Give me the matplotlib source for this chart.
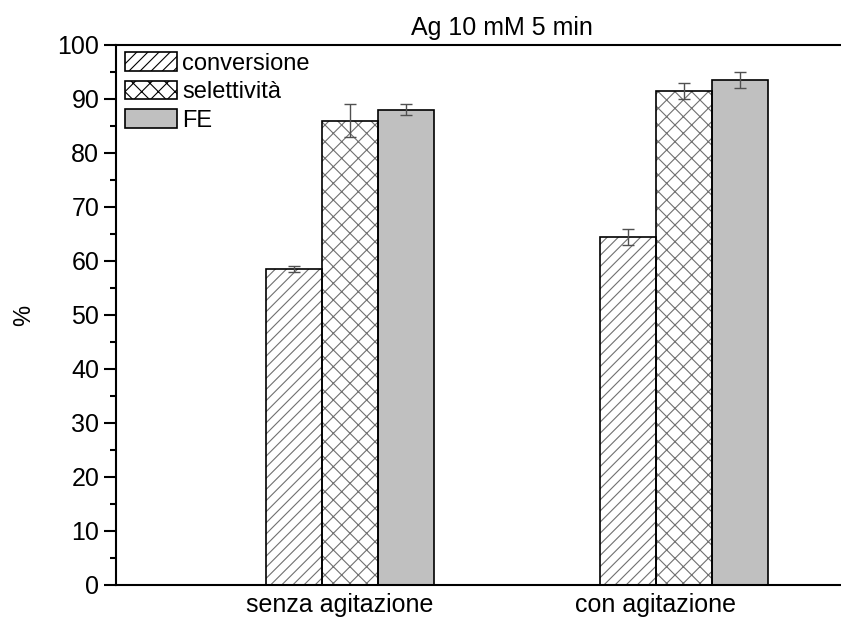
import numpy as np
import matplotlib
matplotlib.use("Agg")
import matplotlib.pyplot as plt
from matplotlib.patches import Patch
from matplotlib.ticker import MultipleLocator

plt.rcParams['font.family'] = ['Liberation Sans', 'DejaVu Sans']
plt.rcParams['hatch.linewidth'] = 0.8

# conditions and measured percentages
groups = ['senza agitazione', 'con agitazione']
series = ['conversione', 'selettività', 'FE']
conversione = [58.5, 64.5]
selettivita = [86.0, 91.5]
fe = [88.0, 93.5]
err_conversione = [0.5, 1.5]
err_selettivita = [3.0, 1.5]
err_fe = [1.0, 1.5]

values = [conversione, selettivita, fe]
errors = [err_conversione, err_selettivita, err_fe]
hatches = ['///', 'xx', '']
faces = ['white', 'white', '#c0c0c0']

fig = plt.figure(figsize=(8.41, 6.21), dpi=100)
ax = fig.add_axes([116 / 841, 36 / 621, 768 / 841, 540 / 621])

x = np.arange(len(groups))
w = 0.1677
for i in range(3):
    pos = x + (i - 1) * w
    # hatch drawn in grey, outline drawn separately in black
    ax.bar(pos, values[i], w, color=faces[i], edgecolor='#707070',
           hatch=hatches[i], linewidth=0, zorder=2)
    ax.bar(pos, values[i], w, fill=False, edgecolor='black', linewidth=1.2, zorder=3)
    ax.errorbar(pos, values[i], yerr=errors[i], fmt='none', ecolor='#505050',
                elinewidth=1.0, capsize=4.3, capthick=1.0, zorder=4)

ax.set_xlim(-0.7006, 1.6)
ax.set_ylim(0, 100)
ax.yaxis.set_major_locator(MultipleLocator(10))
ax.yaxis.set_minor_locator(MultipleLocator(5))
ax.tick_params(axis='y', which='major', direction='out', length=9, width=1.5,
               labelsize=18, pad=3)
ax.tick_params(axis='y', which='minor', direction='out', length=4, width=1.5)
# category labels sit a little left of the bar groups
ax.set_xticks(x + np.array([-0.03, -0.084]))
ax.set_xticklabels(groups)
ax.tick_params(axis='x', length=0, labelsize=18, pad=6)
for s in ax.spines.values():
    s.set_linewidth(1.5)
ax.spines['right'].set_visible(False)

ax.set_ylabel('%', fontsize=17, labelpad=16)
fig.text(502 / 841, 1 - 28 / 621, 'Ag 10 mM 5 min', ha='center', va='center', fontsize=18)

handles = [Patch(facecolor=faces[i], edgecolor='black', hatch=hatches[i], linewidth=1.2)
           for i in range(3)]
ax.legend(handles, series, loc='upper left', frameon=False, fontsize=17,
          handlelength=2.2, handleheight=0.85, handletextpad=0.2, labelspacing=0.25,
          borderaxespad=0.0, borderpad=0.3, bbox_to_anchor=(0.003, 1.0))

fig.savefig('out.png', dpi=100)
